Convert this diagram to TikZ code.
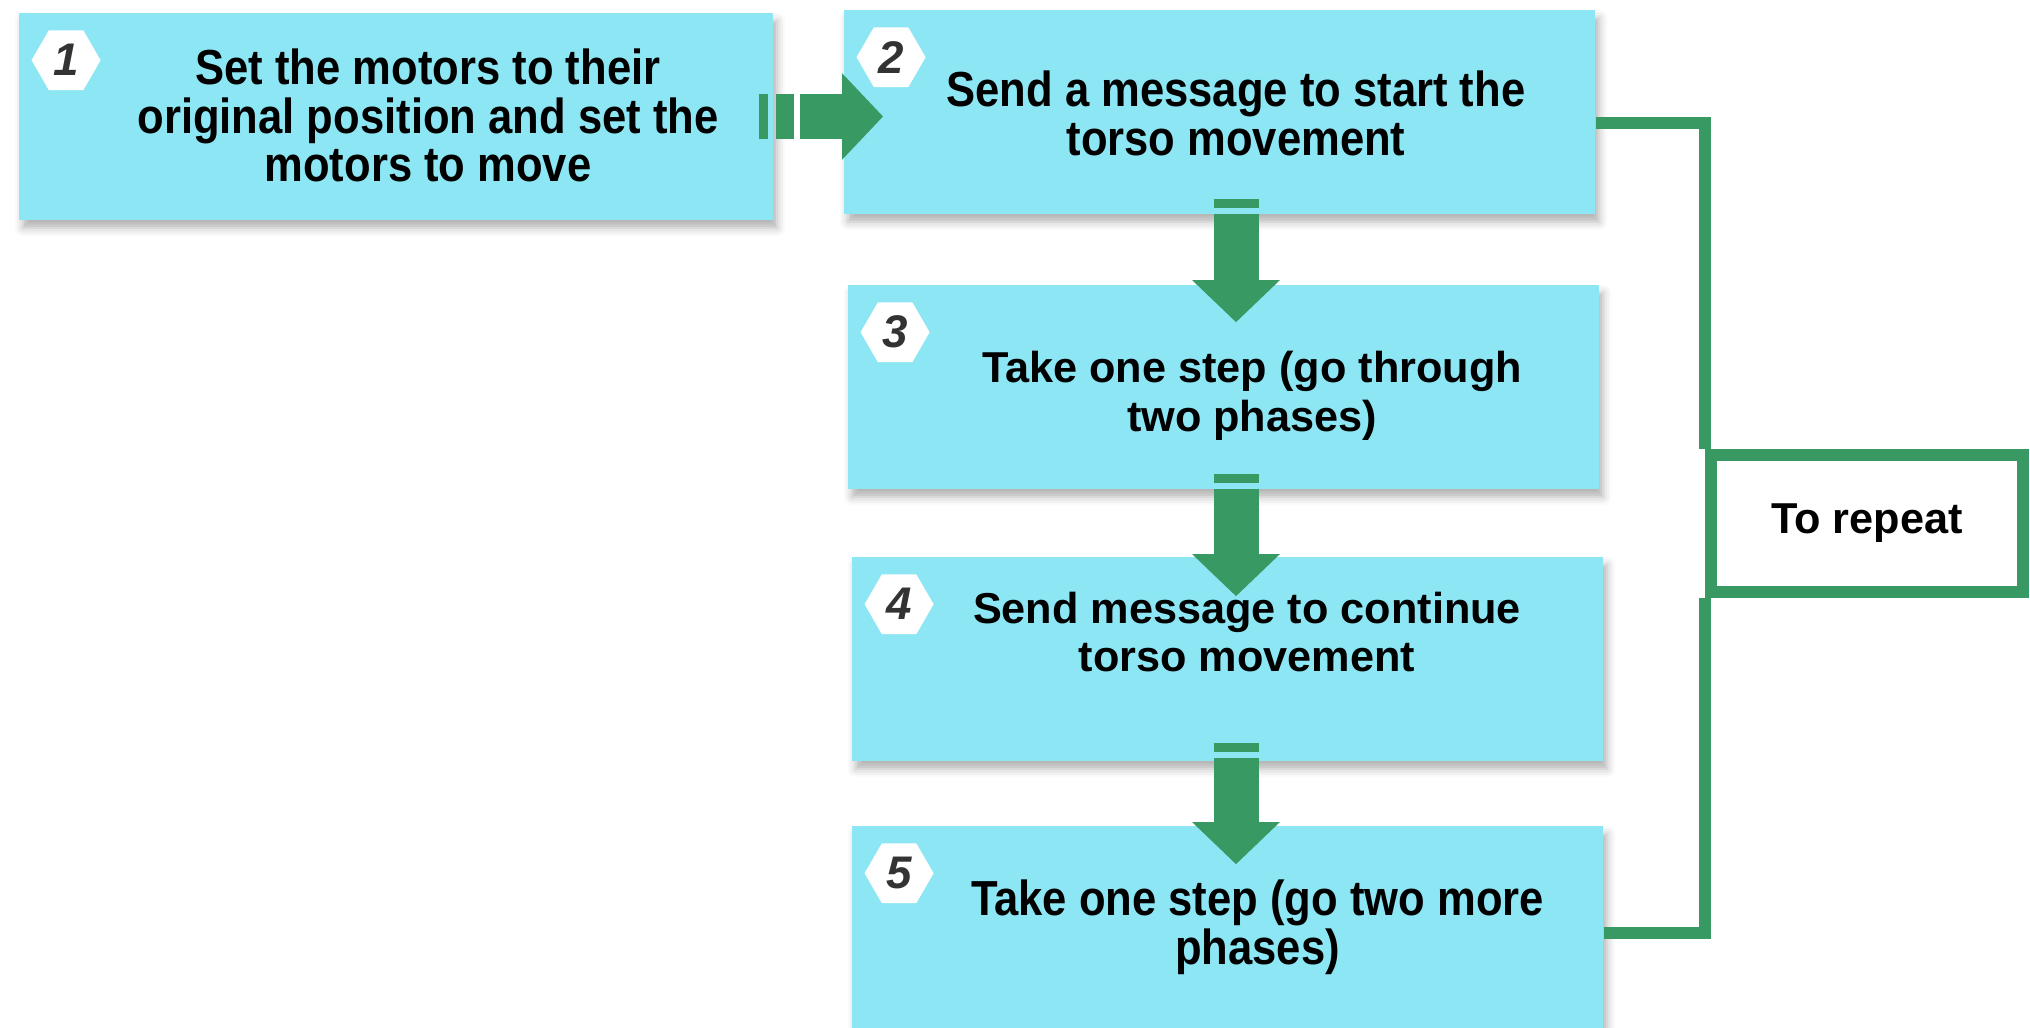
\documentclass[tikz,border=0pt]{standalone}
\usepackage{xcolor}
\usepackage{fontspec}
\usepackage{tikz}
\usetikzlibrary{calc,positioning,arrows.meta,shapes.geometric,shadows.blur}
\setmainfont{Liberation Sans}
\newfontfamily\condfont[FakeStretch=0.885]{Liberation Sans}
\definecolor{stepcyan}{HTML}{8CE6F4}
\definecolor{loopgreen}{HTML}{389A62}
\definecolor{badgegray}{HTML}{333333}

\tikzset{
  stepbox/.style={rectangle, fill=stepcyan, minimum width=7.51cm, minimum height=2.04cm, inner sep=0pt,
    blur shadow={shadow xshift=0.04cm, shadow yshift=-0.08cm, shadow blur radius=0.08cm, shadow opacity=30}},
  condtext/.style={align=center, inner sep=0pt, font=\condfont\bfseries\fontsize{14}{13.9}\selectfont},
  plaintext/.style={align=center, inner sep=0pt, font=\bfseries\fontsize{12.3}{13.9}\selectfont},
  badge/.style={regular polygon, regular polygon sides=6, fill=white, minimum size=0.69cm, inner sep=0pt,
    text=badgegray, font=\bfseries\itshape\fontsize{13}{13}\selectfont},
  flowright/.style={loopgreen, line width=0.45cm, -{Triangle[length=0.41cm,width=0.84cm]},
    dash pattern=on 0.09cm off 0.08cm on 0.18cm off 0.06cm on 20cm},
  flowdown/.style={loopgreen, line width=0.45cm, -{Triangle[length=0.42cm,width=0.85cm]},
    dash pattern=on 0.09cm off 0.06cm on 20cm},
  loopline/.style={draw=loopgreen, line width=0.12cm},
  repeatbox/.style={rectangle, draw=loopgreen, line width=0.12cm, fill=white, minimum width=3.12cm,
    minimum height=1.37cm, font=\bfseries\fontsize{12.3}{14}\selectfont}
}

\begin{document}
\begin{tikzpicture}[x=0.01cm, y=-0.01cm]
  \useasboundingbox (0,0) rectangle (2030,1027);

  % steps
  \node[stepbox, minimum width=7.54cm, minimum height=2.07cm] (b1) at (396,116.5) {};
  \node[stepbox] (b2) at (1219.5,112) {};
  \node[stepbox] (b3) at (1223.5,387) {};
  \node[stepbox] (b4) at (1227.5,659) {};
  \node[stepbox] (b5) at (1227.5,928) {};

  \node[condtext] (t1) at ($(b1.center)+(32,-1)$) {Set the motors to their\\original position and set the\\motors to move};
  \node[condtext] (t2) at ($(b2.center)+(16.5,1)$) {Send a message to start the\\torso movement};
  \node[plaintext] (t3) at ($(b3.center)+(28.5,9)$) {Take one step (go through\\two phases)};
  \node[plaintext] (t4) at ($(b4.center)+(19.5,-27)$) {Send message to continue\\torso movement};
  \node[condtext] (t5) at ($(b5.center)+(30,-1)$) {Take one step (go two more\\phases)};

  \foreach \i in {1,...,5}
    \node[badge] (n\i) at ($(b\i.north west)+(48,48)$) {\i};

  % arrows
  \coordinate (spine) at (1236,0);
  \draw[flowright] ($(b1.east)+(-15,0)$) -- ($(b1.east -| b2.west)+(40,0)$);
  \draw[flowdown] ($(b2.south -| spine)+(0,-16)$) -- ($(b3.north -| spine)+(0,38)$);
  \draw[flowdown] ($(b3.south -| spine)+(0,-16)$) -- ($(b4.north -| spine)+(0,40)$);
  \draw[flowdown] ($(b4.south -| spine)+(0,-19)$) -- ($(b5.north -| spine)+(0,39)$);

  % repeat loop
  \node[repeatbox] (rep) at (1867,523.5) {To repeat};
  \draw[loopline] ($(b2.east)+(0,11)$) -| (rep.north west);
  \draw[loopline] ($(b5.east)+(0,5)$) -| (rep.south west);
\end{tikzpicture}
\end{document}
